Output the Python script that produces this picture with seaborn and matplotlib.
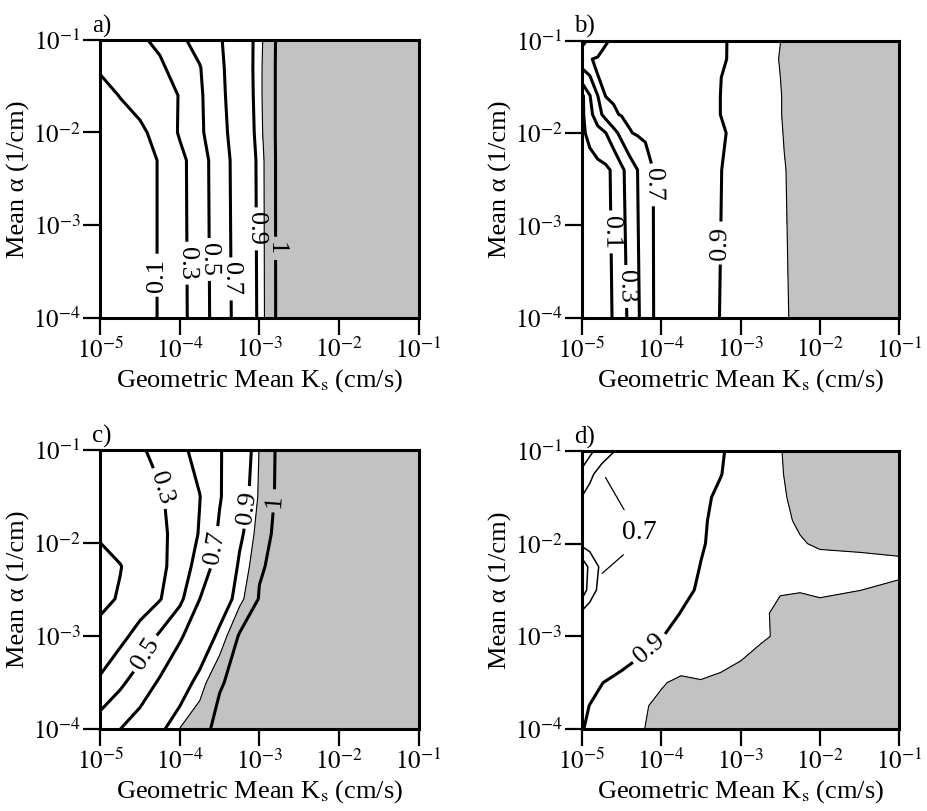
import numpy as np
import matplotlib
matplotlib.use("Agg")
import matplotlib.pyplot as plt
import seaborn as sns

# grid nodes are log10 values: Ks in cm/s (x), alpha in 1/cm (y)
# probabilities at each node

# panel a
ks_a = [-5, -4.75, -4.5, -4.25, -4.0, -3.75, -3.5, -3.25, -3.0, -2.9, -2.75, -2.0, -1.0]
alpha_a = [-4.0, -2.3, -2.0, -1.6, -1.3, -1.0]
prob_a = [
    [0.03, 0.05, 0.07, 0.105, 0.24, 0.40, 0.60, 0.77, 0.92, 0.967, 1.0, 1.0, 1.0],
    [0.03, 0.05, 0.07, 0.105, 0.245, 0.41, 0.61, 0.78, 0.925, 0.968, 1.0, 1.0, 1.0],
    [0.04, 0.06, 0.08, 0.136, 0.322, 0.465, 0.636, 0.797, 0.936, 0.97, 1.0, 1.0, 1.0],
    [0.07, 0.103, 0.14, 0.20, 0.31, 0.471, 0.654, 0.81, 0.94, 0.97, 1.0, 1.0, 1.0],
    [0.11, 0.13, 0.17, 0.25, 0.43, 0.49, 0.664, 0.818, 0.94, 0.97, 1.0, 1.0, 1.0],
    [0.14, 0.17, 0.26, 0.364, 0.464, 0.571, 0.682, 0.82, 0.937, 0.968, 1.0, 1.0, 1.0],
]

# panel b
ks_b = [-5, -4.9, -4.8, -4.7, -4.6, -4.5, -4.4, -4.3, -4.2, -4.0, -3.6, -3.3, -2.8, -2.45, -2.2, -1.0]
alpha_b = [-4.0, -2.4, -2.0, -1.8, -1.6, -1.4, -1.2, -1.0]
prob_b = [
    [0.02, 0.03, 0.05, 0.06, 0.11, 0.22, 0.34, 0.47, 0.59, 0.80, 0.84, 0.898, 0.927, 0.947, 0.96, 0.97],
    [0.03, 0.04, 0.05, 0.065, 0.127, 0.26, 0.382, 0.498, 0.60, 0.80, 0.845, 0.896, 0.928, 0.949, 0.96, 0.97],
    [0.07, 0.14, 0.22, 0.295, 0.433, 0.56, 0.69, 0.716, 0.733, 0.768, 0.837, 0.891, 0.929, 0.951, 0.96, 0.97],
    [0.06, 0.233, 0.427, 0.567, 0.678, 0.712, 0.728, 0.743, 0.758, 0.789, 0.851, 0.897, 0.93, 0.952, 0.96, 0.97],
    [0.05, 0.29, 0.495, 0.704, 0.718, 0.732, 0.746, 0.759, 0.773, 0.80, 0.855, 0.897, 0.93, 0.952, 0.96, 0.97],
    [0.40, 0.477, 0.698, 0.713, 0.726, 0.739, 0.752, 0.765, 0.778, 0.805, 0.857, 0.896, 0.931, 0.953, 0.96, 0.97],
    [0.60, 0.695, 0.711, 0.723, 0.735, 0.747, 0.759, 0.771, 0.783, 0.807, 0.855, 0.89, 0.93, 0.955, 0.962, 0.97],
    [0.45, 0.532, 0.612, 0.692, 0.712, 0.726, 0.74, 0.753, 0.767, 0.795, 0.849, 0.89, 0.929, 0.953, 0.962, 0.97],
]

# panel c
ks_c = [-5, -4.75, -4.5, -4.25, -4.0, -3.75, -3.5, -3.25, -3.0, -2.75, -2.0, -1.0]
alpha_c = [-4.0, -3.5, -3.0, -2.6, -2.25, -1.9, -1.5, -1.0]
prob_c = [
    [0.61, 0.699, 0.791, 0.882, 0.952, 0.978, 1.0, 1.0, 1.0, 1.0, 1.0, 1.0],
    [0.33, 0.463, 0.595, 0.724, 0.846, 0.932, 0.987, 1.0, 1.0, 1.0, 1.0, 1.0],
    [0.15, 0.246, 0.371, 0.529, 0.676, 0.817, 0.924, 0.995, 1.0, 1.0, 1.0, 1.0],
    [0.06, 0.114, 0.202, 0.289, 0.457, 0.699, 0.835, 0.938, 0.993, 1.0, 1.0, 1.0],
    [0.06, 0.094, 0.171, 0.256, 0.383, 0.587, 0.783, 0.914, 0.986, 1.0, 1.0, 1.0],
    [0.115, 0.166, 0.216, 0.267, 0.353, 0.514, 0.729, 0.882, 0.975, 1.0, 1.0, 1.0],
    [0.15, 0.194, 0.237, 0.281, 0.37, 0.495, 0.685, 0.848, 0.959, 1.0, 1.0, 1.0],
    [0.20, 0.24, 0.279, 0.35, 0.454, 0.567, 0.686, 0.822, 0.953, 1.0, 1.0, 1.0],
]

# panel d
ks_d = [-5, -4.9, -4.75, -4.5, -4.25, -4.0, -3.75, -3.5, -3.25, -3.0, -2.75, -2.5, -2.25, -2.0, -1.5, -1.0]
alpha_d = [-4.0, -3.75, -3.5, -3.25, -3.0, -2.75, -2.5, -2.25, -2.0, -1.75, -1.5, -1.25, -1.0]
prob_d = [
    [0.898, 0.906, 0.915, 0.931, 0.947, 0.965, 0.97, 0.97, 0.97, 0.97, 0.97, 0.97, 0.97, 0.97, 0.97, 0.97],
    [0.89, 0.901, 0.910, 0.927, 0.943, 0.962, 0.97, 0.97, 0.97, 0.97, 0.97, 0.97, 0.97, 0.97, 0.97, 0.97],
    [0.875, 0.885, 0.899, 0.914, 0.929, 0.945, 0.962, 0.953, 0.958, 0.965, 0.97, 0.97, 0.97, 0.97, 0.97, 0.97],
    [0.85, 0.86, 0.87, 0.887, 0.904, 0.913, 0.922, 0.931, 0.94, 0.949, 0.96, 0.965, 0.97, 0.97, 0.97, 0.97],
    [0.82, 0.83, 0.84, 0.86, 0.88, 0.899, 0.908, 0.917, 0.926, 0.936, 0.945, 0.955, 0.965, 0.97, 0.97, 0.97],
    [0.74, 0.79, 0.82, 0.845, 0.865, 0.885, 0.901, 0.912, 0.923, 0.934, 0.945, 0.956, 0.965, 0.97, 0.97, 0.97],
    [0.35, 0.60, 0.78, 0.83, 0.855, 0.875, 0.89, 0.905, 0.915, 0.925, 0.935, 0.948, 0.948, 0.94, 0.9495, 0.958],
    [0.35, 0.55, 0.75, 0.82, 0.85, 0.87, 0.885, 0.901, 0.91, 0.92, 0.928, 0.935, 0.938, 0.935, 0.93, 0.94],
    [0.75, 0.78, 0.81, 0.835, 0.855, 0.87, 0.885, 0.897, 0.91, 0.92, 0.93, 0.94, 0.947, 0.955, 0.962, 0.962],
    [0.77, 0.79, 0.815, 0.84, 0.858, 0.872, 0.885, 0.895, 0.91, 0.92, 0.93, 0.942, 0.955, 0.963, 0.968, 0.968],
    [0.705, 0.76, 0.80, 0.835, 0.855, 0.87, 0.882, 0.893, 0.906, 0.918, 0.93, 0.946, 0.958, 0.965, 0.968, 0.968],
    [0.55, 0.66, 0.78, 0.83, 0.85, 0.865, 0.877, 0.89, 0.899, 0.915, 0.93, 0.948, 0.96, 0.965, 0.968, 0.968],
    [0.35, 0.45, 0.60, 0.75, 0.83, 0.855, 0.87, 0.885, 0.897, 0.912, 0.93, 0.949, 0.96, 0.965, 0.968, 0.968],
]

line_levels = [0.1, 0.3, 0.5, 0.7, 0.9, 0.99]
level_text = ['0.1', '0.3', '0.5', '0.7', '0.9', '1']
shade_level = 0.95

x_ticks = [-5, -4, -3, -2, -1]
x_ticklabels = [r'$10^{-5}$', r'$10^{-4}$', r'$10^{-3}$', r'$10^{-2}$', r'$10^{-1}$']
y_ticks = [-4, -3, -2, -1]
y_ticklabels = [r'$10^{-4}$', r'$10^{-3}$', r'$10^{-2}$', r'$10^{-1}$']
panel_letters = ['a)', 'b)', 'c)', 'd)']
x_title = r'Geometric Mean K$_{\rm s}$ (cm/s)'
y_title = 'Mean α (1/cm)'

# layout: axes boxes and where the inline contour labels sit
boxes = [[0.108, 0.608, 0.343, 0.343], [0.627, 0.608, 0.342, 0.342],
         [0.108, 0.101, 0.343, 0.344], [0.627, 0.101, 0.342, 0.343]]
label_spots = [
    {0.1: (-4.28, -3.54), 0.3: (-3.9, -3.41), 0.5: (-3.64, -3.37), 0.7: (-3.38, -3.58), 0.9: (-3.07, -3.04), 0.99: (-2.8, -3.25)},
    {0.1: (-4.64, -3.07), 0.3: (-4.45, -3.66), 0.7: (-4.1, -2.56), 0.9: (-3.25, -3.19)},
    {0.3: (-4.17, -1.39), 0.5: (-4.45, -3.18), 0.7: (-3.6, -2.04), 0.9: (-3.2, -1.61), 0.99: (-2.9, -1.54)},
    {0.9: (-4.16, -3.12)},
]
thin_levels_d = [0.5, 0.7]
gray = '#c2c2c2'

sns.set_theme(style='ticks', rc={'axes.edgecolor': 'black', 'xtick.color': 'black',
                                 'ytick.color': 'black', 'text.color': 'black',
                                 'axes.labelcolor': 'black'})
plt.rcParams['font.family'] = ['Liberation Serif', 'DejaVu Serif']
plt.rcParams['mathtext.fontset'] = 'stix'

fig = plt.figure(figsize=(9.28, 8.11), dpi=100)
panels = [(ks_a, alpha_a, prob_a), (ks_b, alpha_b, prob_b),
          (ks_c, alpha_c, prob_c), (ks_d, alpha_d, prob_d)]
fmt = dict(zip(line_levels, level_text))

for i, (ks, alpha, prob) in enumerate(panels):
    ax = fig.add_axes(boxes[i])
    X, Y = np.meshgrid(ks, alpha)
    Z = np.array(prob)
    ax.contourf(X, Y, Z, levels=[shade_level, 1.01], colors=[gray])
    ax.contour(X, Y, Z, levels=[shade_level], colors='black', linewidths=0.8)
    spots = label_spots[i]
    for lev in line_levels:
        if Z.min() >= lev or Z.max() <= lev:
            continue
        lw = 1.1 if (i == 3 and lev in thin_levels_d) else 2.2
        cs = ax.contour(X, Y, Z, levels=[lev], colors='black', linewidths=lw)
        if lev in spots:
            ax.clabel(cs, manual=[spots[lev]], fmt=fmt, inline=True,
                      inline_spacing=5, fontsize=19)

    if i == 3:
        ax.text(-4.28, -1.88, '0.7', fontsize=20, ha='center', va='center')
        ax.annotate('', xy=(-4.72, -1.26), xytext=(-4.45, -1.66),
                    arrowprops=dict(arrowstyle='-', lw=0.9, color='black'))
        ax.annotate('', xy=(-4.77, -2.34), xytext=(-4.45, -2.1),
                    arrowprops=dict(arrowstyle='-', lw=0.9, color='black'))

    ax.set_xlim(-5, -1)
    ax.set_ylim(-4, -1)
    ax.set_xticks(x_ticks)
    ax.set_xticklabels(x_ticklabels)
    ax.set_yticks(y_ticks)
    ax.set_yticklabels(y_ticklabels)
    ax.tick_params(direction='out', length=12, width=1.6, labelsize=18, pad=2,
                   top=False, right=False)
    for sp in ax.spines.values():
        sp.set_linewidth(2.2)
        sp.set_visible(True)
    ax.set_xlabel(x_title, fontsize=19, labelpad=3)
    ax.set_ylabel(y_title, fontsize=19, labelpad=2)
    ax.text(-0.025, 1.008, panel_letters[i], transform=ax.transAxes,
            fontsize=18, ha='left', va='bottom')

fig.savefig('out.png', dpi=100)
